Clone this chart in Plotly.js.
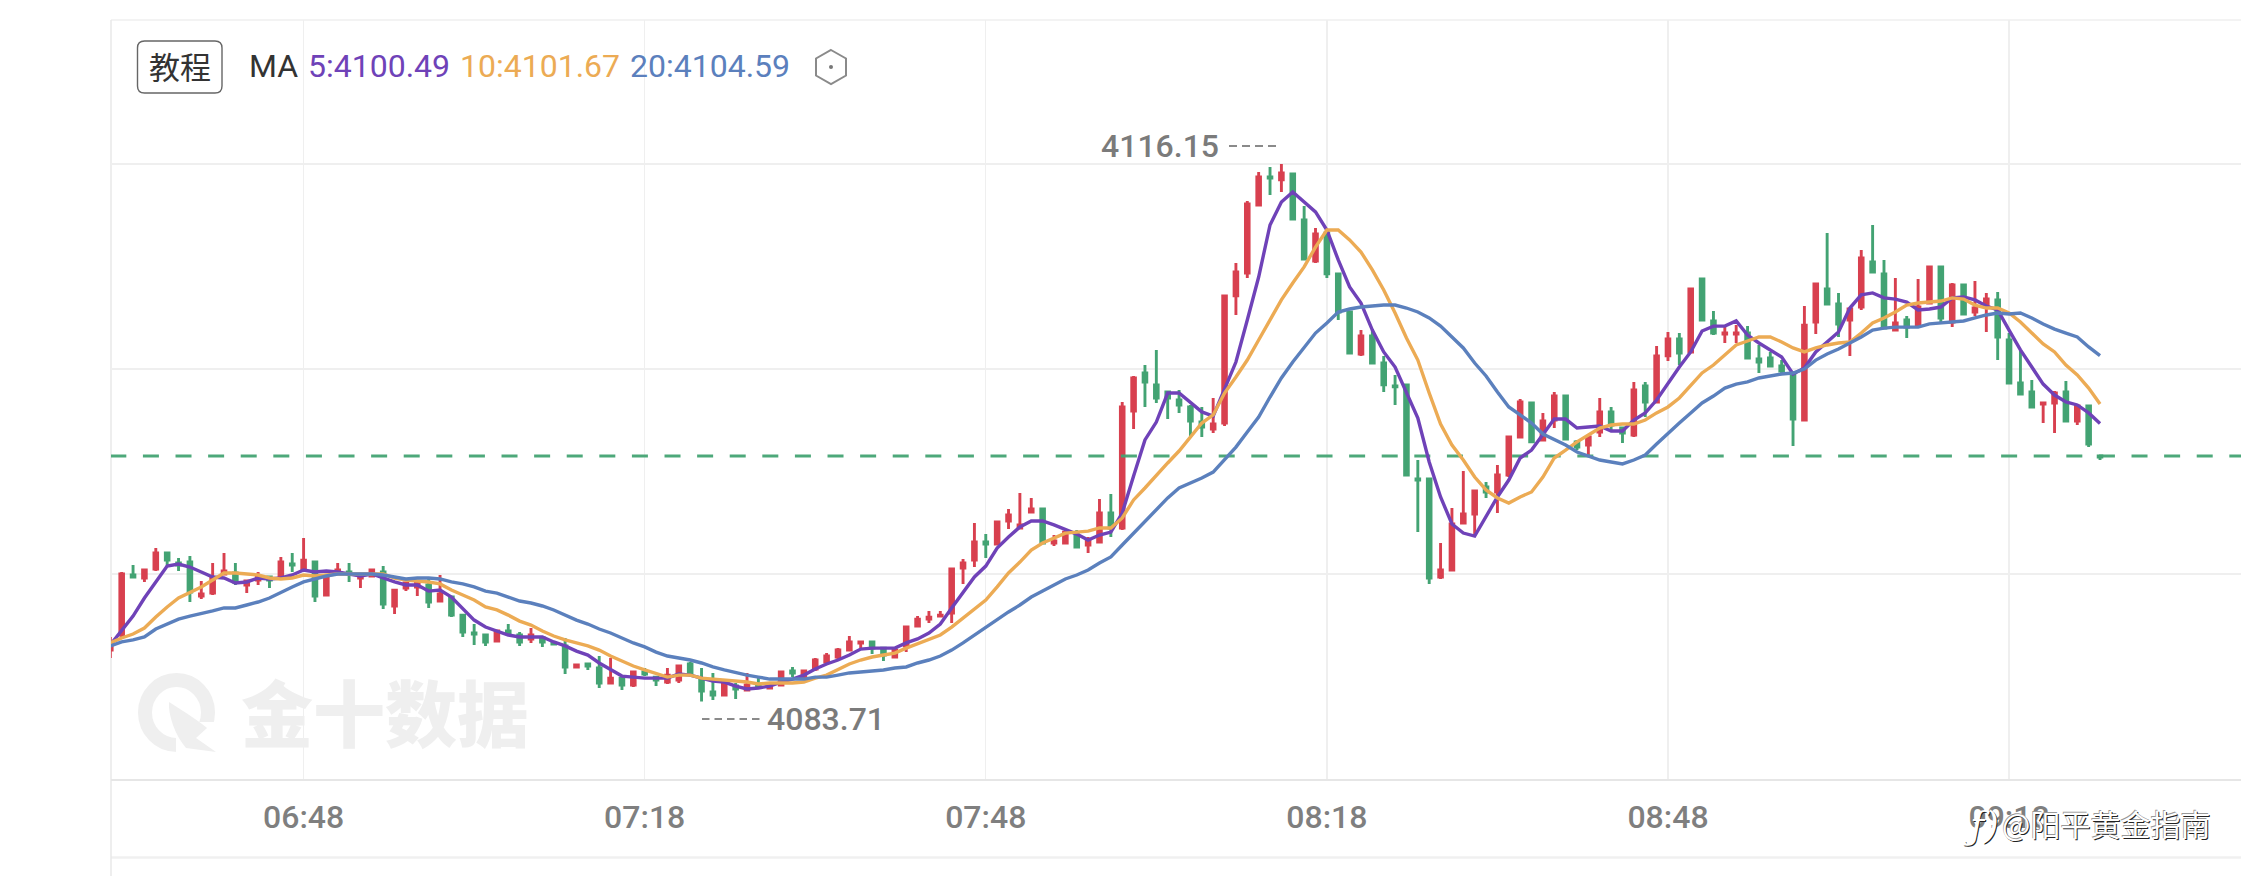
<!DOCTYPE html>
<html>
<head>
<meta charset="utf-8">
<style>html,body{margin:0;padding:0;background:#fff;overflow:hidden}#chart{width:2241px;height:876px}</style>
<script src="https://cdn.plot.ly/plotly-3.0.1.min.js"></script>
</head>
<body>
<div id="chart"></div>
<script>
const opens = [
4086.82,4087.73,4091.35,4091.17,4091.71,4092.68,4092.07,4092.13,4090.08,4090.26,
4091.41,4091.47,4090.75,4091.05,4091.23,4091.23,4092.01,4091.71,4092.13,4090.14,
4091.47,4091.53,4091.17,4091.29,4091.53,4089.48,4090.56,4090.63,4090.75,4089.78,
4090.02,4088.93,4087.85,4087.73,4087.37,4087.97,4087.73,4087.49,4087.55,4087.25,
4087.07,4085.80,4085.98,4085.74,4084.83,4085.13,4084.71,4085.50,4085.19,4084.89,
4085.01,4085.98,4085.01,4084.29,4084.11,4084.65,4084.41,4084.71,4084.53,4084.71,
4085.56,4085.19,4085.68,4086.10,4086.40,4086.82,4087.25,4087.31,4086.94,4086.40,
4087.07,4088.27,4088.69,4088.87,4089.06,4091.77,4092.25,4093.34,4093.22,4094.61,
4094.19,4095.15,4095.33,4093.28,4093.28,4093.76,4093.16,4093.34,4095.09,4094.19,
4101.25,4103.54,4102.82,4102.39,4101.91,4101.49,4100.58,4100.16,4100.52,4108.19,
4109.57,4113.68,4115.37,4115.19,4115.55,4112.77,4110.30,4111.99,4109.52,4107.22,
4104.69,4105.77,4104.14,4102.76,4102.82,4097.14,4097.14,4091.23,4091.65,4094.49,
4095.03,4096.66,4096.36,4097.38,4099.68,4101.73,4099.50,4100.70,4102.15,4099.38,
4099.19,4099.98,4101.19,4100.22,4099.80,4102.76,4101.79,4104.57,4105.59,4104.81,
4109.21,4106.68,4105.89,4105.89,4105.95,4104.38,4104.44,4103.96,4103.54,4100.70,
4106.62,4108.61,4107.70,4106.74,4107.52,4110.24,4109.52,4106.13,4106.74,4106.43,
4107.76,4109.94,4106.62,4108.85,4107.22,4107.52,4107.95,4105.53,4102.94,4102.39,
4101.67,4101.73,4102.39,4100.64,4101.55,4098.53];
const highs = [
4087.61,4091.53,4091.95,4091.71,4092.98,4092.68,4092.38,4092.50,4090.99,4092.07,
4092.68,4092.07,4091.05,4091.53,4091.29,4092.44,4092.68,4093.58,4092.13,4091.35,
4092.07,4092.07,4091.41,4091.71,4091.89,4090.44,4090.93,4091.05,4091.17,4091.35,
4090.02,4088.93,4088.39,4087.79,4088.03,4088.39,4087.91,4088.15,4087.67,4087.31,
4087.55,4085.98,4085.98,4086.46,4086.34,4085.19,4085.56,4085.74,4085.25,4085.74,
4085.92,4086.10,4085.74,4085.44,4084.83,4084.83,4085.44,4085.13,4084.71,4085.50,
4085.80,4085.56,4086.34,4086.64,4086.94,4087.67,4087.37,4087.37,4086.94,4086.94,
4088.27,4088.87,4089.18,4089.18,4091.71,4092.31,4094.49,4093.82,4094.61,4095.33,
4096.30,4095.99,4095.33,4093.76,4094.07,4094.07,4093.64,4095.94,4096.24,4101.79,
4103.36,4104.02,4104.93,4102.39,4102.51,4101.61,4101.49,4102.03,4108.19,4110.18,
4113.92,4115.67,4115.97,4116.15,4115.55,4113.62,4112.29,4112.17,4109.52,4107.22,
4106.13,4106.13,4104.57,4103.42,4102.82,4098.29,4097.14,4093.28,4095.39,4097.63,
4096.42,4096.96,4097.99,4099.74,4101.97,4101.73,4101.13,4102.39,4102.15,4099.50,
4099.80,4102.03,4101.49,4100.28,4103.00,4103.00,4105.17,4106.01,4105.95,4108.61,
4109.21,4107.28,4106.31,4106.43,4106.37,4105.23,4104.81,4104.32,4103.54,4107.58,
4108.91,4111.99,4108.37,4107.46,4110.96,4112.47,4110.36,4109.27,4106.98,4109.21,
4109.94,4109.94,4108.97,4108.91,4109.09,4108.37,4108.43,4105.95,4104.87,4103.12,
4101.73,4102.45,4103.06,4101.61,4101.55,4098.59];
const lows = [
4086.34,4087.55,4091.17,4090.93,4091.59,4091.89,4091.59,4089.72,4089.90,4090.14,
4091.35,4090.75,4090.26,4090.75,4090.56,4091.17,4091.53,4091.65,4089.72,4090.08,
4091.41,4090.93,4090.56,4091.23,4089.30,4089.00,4090.38,4090.08,4089.36,4089.72,
4088.81,4087.61,4087.13,4087.07,4087.31,4087.73,4087.07,4087.25,4087.01,4087.17,
4085.38,4085.74,4085.62,4084.53,4084.80,4084.41,4084.59,4085.25,4084.65,4084.77,
4084.83,4085.31,4083.71,4083.81,4084.08,4083.87,4084.35,4084.59,4084.47,4084.65,
4085.19,4085.07,4085.56,4085.98,4086.28,4086.76,4086.88,4086.58,4086.16,4086.34,
4086.70,4088.21,4088.45,4088.81,4088.45,4090.81,4091.83,4092.38,4093.16,4094.13,
4094.13,4095.12,4093.22,4093.10,4093.22,4093.02,4092.68,4093.28,4093.64,4094.07,
4100.16,4101.49,4101.73,4100.76,4101.13,4099.74,4099.68,4099.92,4100.34,4107.04,
4109.27,4113.65,4114.28,4114.46,4112.80,4110.36,4110.18,4109.27,4106.74,4104.72,
4104.57,4104.08,4102.39,4101.61,4097.35,4093.94,4090.81,4091.11,4091.62,4094.46,
4093.76,4096.00,4095.09,4097.26,4099.65,4099.32,4099.44,4100.22,4099.53,4098.89,
4098.59,4099.68,4100.10,4099.32,4099.68,4100.88,4101.73,4104.26,4104.02,4104.75,
4106.68,4105.83,4105.35,4105.35,4104.38,4103.54,4103.90,4103.54,4099.13,4100.67,
4105.89,4107.67,4105.71,4104.57,4107.34,4109.60,4106.19,4106.07,4105.65,4106.31,
4107.70,4106.62,4106.31,4107.07,4106.98,4106.01,4104.32,4102.88,4102.24,4101.46,
4100.52,4099.92,4100.61,4100.40,4099.07,4098.29];
const closes = [
4087.25,4091.41,4091.23,4091.65,4092.68,4092.25,4091.95,4090.32,4090.20,4091.17,
4091.59,4090.93,4090.99,4091.23,4091.05,4092.13,4091.95,4092.25,4090.08,4091.17,
4091.65,4091.41,4091.35,4091.65,4089.60,4090.44,4090.87,4090.93,4089.72,4090.20,
4088.93,4087.91,4087.79,4087.31,4087.97,4087.85,4087.31,4087.73,4087.31,4087.19,
4085.80,4085.92,4085.86,4084.83,4085.13,4084.71,4085.50,4085.38,4085.01,4085.31,
4085.86,4085.38,4084.35,4084.11,4084.83,4084.47,4084.71,4084.65,4084.65,4085.50,
4085.44,4085.56,4086.22,4086.46,4086.82,4087.31,4087.31,4086.94,4086.52,4086.82,
4088.21,4088.69,4088.81,4088.93,4091.71,4092.07,4093.34,4093.22,4094.55,4094.97,
4094.37,4095.33,4093.28,4093.40,4093.94,4093.04,4093.46,4095.09,4094.19,4101.49,
4103.24,4103.00,4102.03,4102.03,4101.61,4100.64,4100.28,4100.46,4108.19,4109.63,
4113.74,4115.37,4115.31,4115.61,4112.83,4110.42,4111.93,4109.52,4107.22,4104.75,
4105.77,4104.14,4102.82,4102.70,4097.38,4097.08,4091.17,4091.65,4094.43,4095.03,
4096.42,4096.36,4097.38,4099.68,4101.79,4099.38,4100.64,4102.15,4099.56,4099.07,
4099.68,4101.19,4100.40,4099.92,4102.51,4101.79,4104.57,4105.59,4104.75,4108.61,
4106.74,4105.95,4105.95,4105.95,4104.44,4104.20,4103.96,4103.66,4100.76,4106.43,
4108.91,4107.70,4106.50,4107.40,4110.48,4109.63,4106.25,4106.56,4106.31,4107.52,
4109.94,4106.86,4108.85,4107.10,4107.46,4108.00,4105.71,4102.94,4102.27,4101.49,
4101.73,4102.33,4100.64,4101.55,4099.25,4098.47];
const ma5 = [
4087.13,4087.97,4088.87,4089.96,4090.93,4091.89,4092.01,4091.83,4091.53,4091.23,
4091.17,4090.87,4090.93,4091.17,4091.11,4091.17,4091.35,4091.65,4091.53,4091.59,
4091.53,4091.41,4091.29,4091.41,4091.17,4090.93,4090.75,4090.75,4090.38,4090.44,
4090.02,4089.36,4088.63,4088.21,4087.97,4087.73,4087.61,4087.61,4087.61,4087.31,
4087.07,4086.76,4086.52,4086.04,4085.62,4085.25,4085.19,4085.13,4085.13,4085.13,
4085.38,4085.31,4085.13,4084.95,4084.89,4084.65,4084.47,4084.53,4084.65,4084.89,
4085.07,4085.31,4085.68,4085.98,4086.22,4086.52,4086.88,4086.94,4086.94,4086.94,
4087.25,4087.49,4087.85,4088.39,4089.36,4090.32,4091.23,4091.89,4092.98,4093.64,
4094.25,4094.61,4094.61,4094.37,4094.07,4093.82,4093.46,4093.76,4093.94,4095.09,
4097.32,4099.50,4100.58,4102.33,4102.33,4101.73,4101.19,4100.94,4102.51,4104.20,
4106.74,4109.33,4112.47,4113.86,4114.46,4113.86,4113.26,4112.17,4110.36,4108.73,
4107.76,4106.13,4104.81,4103.90,4102.33,4100.82,4098.17,4096.06,4094.43,4093.88,
4093.70,4094.85,4096.06,4097.08,4098.41,4098.89,4099.80,4100.76,4100.76,4100.22,
4100.28,4100.34,4100.04,4100.04,4100.70,4101.13,4101.91,4102.94,4103.90,4104.81,
4106.07,4106.37,4106.37,4106.68,4105.83,4105.35,4104.93,4104.50,4103.48,4103.84,
4104.81,4105.41,4106.01,4107.46,4108.25,4108.37,4108.07,4108.00,4107.82,4107.34,
4107.40,4107.52,4108.07,4108.13,4107.95,4107.58,4107.34,4106.13,4104.93,4103.90,
4102.87,4102.21,4101.79,4101.61,4101.13,4100.49];
const ma10 = [
4087.25,4087.55,4087.79,4088.15,4088.81,4089.42,4089.96,4090.32,4090.63,4091.05,
4091.47,4091.47,4091.41,4091.35,4091.17,4091.11,4091.17,4091.35,4091.29,4091.35,
4091.41,4091.41,4091.41,4091.41,4091.41,4091.17,4091.05,4090.99,4090.93,4090.81,
4090.44,4090.14,4089.84,4089.42,4089.24,4088.93,4088.57,4088.33,4087.97,4087.67,
4087.43,4087.25,4087.07,4086.82,4086.46,4086.16,4085.86,4085.62,4085.38,4085.19,
4085.31,4085.31,4085.13,4085.07,4085.01,4084.95,4084.89,4084.77,4084.83,4084.83,
4084.83,4084.89,4085.13,4085.31,4085.62,4085.98,4086.22,4086.40,4086.52,4086.64,
4086.94,4087.19,4087.43,4087.73,4088.21,4088.75,4089.24,4089.84,4090.63,4091.47,
4092.13,4092.86,4093.28,4093.58,4093.88,4093.94,4094.00,4094.19,4094.19,4094.79,
4095.88,4096.60,4097.38,4098.11,4098.83,4099.68,4100.52,4101.01,4102.33,4103.30,
4104.32,4105.53,4106.74,4107.95,4108.97,4109.94,4111.14,4112.17,4112.17,4111.57,
4110.84,4109.76,4108.55,4107.16,4105.65,4104.32,4102.33,4100.46,4099.19,4098.29,
4097.26,4096.48,4096.00,4095.69,4096.06,4096.36,4097.26,4098.41,4098.89,4099.38,
4099.80,4100.22,4100.40,4100.46,4100.46,4100.70,4101.13,4101.49,4102.03,4102.82,
4103.54,4104.02,4104.63,4105.23,4105.47,4105.71,4105.71,4105.41,4105.05,4104.81,
4105.05,4105.23,4105.35,4105.41,4105.95,4106.56,4106.86,4107.22,4107.64,4107.76,
4107.82,4107.88,4108.07,4108.00,4107.64,4107.46,4107.46,4107.16,4106.62,4105.95,
4105.29,4104.81,4104.02,4103.42,4102.63,4101.67];
const ma20 = [
4087.07,4087.31,4087.43,4087.61,4088.09,4088.39,4088.69,4088.87,4089.00,4089.18,
4089.36,4089.36,4089.54,4089.72,4089.96,4090.32,4090.63,4090.93,4091.11,4091.29,
4091.41,4091.41,4091.41,4091.41,4091.35,4091.23,4091.11,4091.17,4091.17,4091.11,
4090.93,4090.81,4090.63,4090.38,4090.26,4090.02,4089.78,4089.66,4089.48,4089.24,
4088.93,4088.63,4088.39,4088.09,4087.85,4087.55,4087.25,4087.01,4086.70,4086.46,
4086.34,4086.22,4086.04,4085.80,4085.62,4085.44,4085.31,4085.19,4085.07,4085.07,
4085.07,4085.07,4085.19,4085.19,4085.31,4085.44,4085.50,4085.56,4085.62,4085.74,
4085.80,4086.04,4086.22,4086.46,4086.82,4087.25,4087.73,4088.15,4088.63,4089.12,
4089.54,4090.02,4090.38,4090.75,4091.11,4091.35,4091.65,4092.07,4092.44,4093.16,
4093.88,4094.55,4095.27,4096.00,4096.60,4096.90,4097.20,4097.56,4098.29,4099.07,
4099.98,4100.88,4102.09,4103.24,4104.20,4105.11,4105.95,4106.56,4107.22,4107.40,
4107.52,4107.58,4107.64,4107.64,4107.46,4107.22,4106.86,4106.37,4105.71,4105.05,
4104.14,4103.36,4102.39,4101.49,4101.01,4100.52,4099.86,4099.50,4099.19,4098.77,
4098.53,4098.29,4098.17,4098.05,4098.29,4098.59,4099.25,4099.92,4100.52,4101.13,
4101.73,4102.15,4102.63,4102.87,4103.00,4103.24,4103.36,4103.48,4103.54,4103.78,
4104.32,4104.69,4104.99,4105.35,4105.71,4106.13,4106.25,4106.31,4106.31,4106.31,
4106.50,4106.56,4106.62,4106.68,4106.86,4107.04,4107.16,4107.10,4107.16,4106.86,
4106.50,4106.19,4105.95,4105.71,4105.11,4104.59];
const tickCandles = [17, 47, 77, 107, 137, 167];
const tickLabels = ['06:48', '07:18', '07:48', '08:18', '08:48', '09:18'];
const gridPrices = [4116.15, 4103.78, 4091.41];
const refPrice = 4098.53;
const highLabel = '4116.15', lowLabel = '4083.71';
const maLegend = ['5:4100.49', '10:4101.67', '20:4104.59'];

const RED = '#d8404f', GREEN = '#43a373', PURPLE = '#6f42b8', ORANGE = '#ecab54', BLUE = '#5b80bd';
const GRID = '#efefef', W = 2241, H = 876, L = 111, T = 20, B = 779;
const X = px => (px - L) / (W - L), Y = py => (B - py) / (B - T);
const candleX = opens.map((_, i) => i);

const maTrace = (y, color) => ({type: 'scatter', mode: 'lines', x: candleX, y: y,
  line: {color: color, width: 3.4}, hoverinfo: 'skip', showlegend: false, cliponaxis: true});

const data = [
  {type: 'candlestick', x: candleX, open: opens, high: highs, low: lows, close: closes,
   increasing: {line: {color: RED, width: 2.9}, fillcolor: RED},
   decreasing: {line: {color: GREEN, width: 2.9}, fillcolor: GREEN},
   whiskerwidth: 0, hoverinfo: 'skip', showlegend: false},
  {type: 'scatter', mode: 'lines', x: [0, 188], y: [refPrice, refPrice],
   line: {color: GREEN, width: 3, dash: '16px,16.6px'}, opacity: 0.95, hoverinfo: 'skip', showlegend: false},
  maTrace(ma5, PURPLE), maTrace(ma10, ORANGE), maTrace(ma20, BLUE)
];

const txt = (s, px, py, size, color, anchor, extra) => Object.assign({
  text: s, xref: 'paper', yref: 'paper', x: X(px), y: Y(py), xanchor: anchor || 'left', yanchor: 'middle',
  showarrow: false, borderpad: 0, font: Object.assign({family: 'Roboto', size: size, color: color}, extra || {})
}, {});

const pathShape = (d, opt) => Object.assign({type: 'path', xref: 'paper', yref: 'paper', path: d, layer: 'above',
  line: {color: '#888', width: 1.6}}, opt || {});
const pt = (x, y) => X(x) + ' ' + Y(y);
const r = 7, bx0 = 137.5, bx1 = 222, by0 = 41, by1 = 93;
const roundBox = 'M' + pt(bx0 + r, by0) + ' L' + pt(bx1 - r, by0) + ' Q' + pt(bx1, by0) + ' ' + pt(bx1, by0 + r) +
  ' L' + pt(bx1, by1 - r) + ' Q' + pt(bx1, by1) + ' ' + pt(bx1 - r, by1) + ' L' + pt(bx0 + r, by1) +
  ' Q' + pt(bx0, by1) + ' ' + pt(bx0, by1 - r) + ' L' + pt(bx0, by0 + r) + ' Q' + pt(bx0, by0) + ' ' + pt(bx0 + r, by0) + ' Z';
const hex = 'M' + pt(831, 50) + ' L' + pt(846, 58.5) + ' L' + pt(846, 75.5) + ' L' + pt(831, 84) + ' L' + pt(816, 75.5) + ' L' + pt(816, 58.5) + ' Z';
const leaf = 'M' + pt(169, 702) + ' C' + pt(185, 712) + ' ' + pt(200, 722) + ' ' + pt(207, 728) + ' L' + pt(196, 738) + ' L' + pt(216, 752) +
  ' L' + pt(186, 748) + ' C' + pt(175, 735) + ' ' + pt(168, 715) + ' ' + pt(169, 702) + ' Z';
const ringGap = 'M' + pt(176, 722) + ' L' + pt(222, 722) + ' L' + pt(222, 760) + ' L' + pt(176, 760) + ' Z';

const hline = (py, c, w, dash) => ({type: 'line', xref: 'paper', yref: 'paper', x0: 0, x1: 1, y0: Y(py), y1: Y(py), layer: 'below', line: {color: c, width: w, dash: dash || 'solid'}});

const shapes = [
  hline(20, GRID, 1.5), hline(857.5, '#f0f0f0', 2.5),
  {type: 'line', xref: 'paper', yref: 'paper', x0: 0, x1: 0, y0: Y(876), y1: 1, layer: 'below', line: {color: '#e8e8e8', width: 1.5}},
  {type: 'circle', xref: 'paper', yref: 'paper', x0: X(145), x1: X(208), y0: Y(680), y1: Y(745), layer: 'below', line: {color: '#efefef', width: 14}},
  {type: 'path', xref: 'paper', yref: 'paper', path: ringGap, layer: 'below', fillcolor: '#fff', line: {width: 0}},
  {type: 'path', xref: 'paper', yref: 'paper', path: leaf, layer: 'below', fillcolor: '#efefef', line: {width: 0}},
  pathShape(roundBox, {line: {color: '#666', width: 1.4}}),
  pathShape(hex, {line: {color: '#8a8a8a', width: 2}}),
  {type: 'circle', xref: 'paper', yref: 'paper', x0: X(829), x1: X(833), y0: Y(65), y1: Y(69), fillcolor: '#777', line: {width: 0}, layer: 'above'},
  {type: 'line', xref: 'paper', yref: 'paper', x0: X(1229), x1: X(1276), y0: Y(146), y1: Y(146), layer: 'above', line: {color: '#8a8a8a', width: 2, dash: '8px,5px'}},
  {type: 'line', xref: 'paper', yref: 'paper', x0: X(702), x1: X(761), y0: Y(719), y1: Y(719), layer: 'above', line: {color: '#8a8a8a', width: 2, dash: '7.5px,5px'}}
];

const annotations = [
  txt('金十数据', 385, 709, 72, '#efefef', 'center', {family: 'Noto Sans CJK SC', weight: 900}),
  txt('教程', 179.5, 66, 31, '#333', 'center', {family: 'Noto Sans CJK SC'}),
  txt('MA', 248, 66, 32, '#333'),
  txt(maLegend[0], 307, 66, 32, PURPLE),
  txt(maLegend[1], 459, 66, 32, ORANGE),
  txt(maLegend[2], 629, 66, 32, BLUE),
  txt(highLabel, 1100, 146, 32, '#7b7b7b', 'left', {weight: 500}),
  txt(lowLabel, 766, 719, 32, '#7b7b7b', 'left', {weight: 500}),
  txt('ƒ)', 1962, 825, 38, '#fff', 'left', {family: 'DejaVu Serif', style: 'italic', shadow: '1px 1px 0 #222'}),
  txt('@阳平黄金指南', 2001, 823, 30, '#fff', 'left', {family: 'Noto Sans CJK SC', shadow: '1px 1px 0 #222, -0.6px -0.6px 0 #999'})
];

const layout = {
  width: W, height: H, paper_bgcolor: '#fff', plot_bgcolor: 'rgba(0,0,0,0)', showlegend: false, dragmode: false,
  margin: {l: L, r: 0, t: T, b: H - B, pad: 0},
  boxgap: 0.54,
  xaxis: {type: 'linear', range: [0.06, 187.4], rangeslider: {visible: false}, tickmode: 'array', tickvals: tickCandles, ticktext: tickLabels,
    showgrid: true, gridcolor: GRID, gridwidth: 1.3, zeroline: false, showline: true, linecolor: '#e6e6e6', linewidth: 1.5,
    ticks: '', tickangle: 0, tickfont: {family: 'Roboto', size: 32, color: '#7f7f7f', weight: 500}, ticklabelstandoff: 9, fixedrange: true},
  yaxis: {type: 'linear', range: [4079.04, 4124.84], tickmode: 'array', tickvals: gridPrices, showticklabels: false,
    showgrid: true, gridcolor: GRID, gridwidth: 1.3, zeroline: false, showline: false, ticks: '', fixedrange: true},
  shapes: shapes, annotations: annotations
};
Plotly.newPlot('chart', data, layout, {displayModeBar: false, staticPlot: true});
</script>
</body>
</html>
